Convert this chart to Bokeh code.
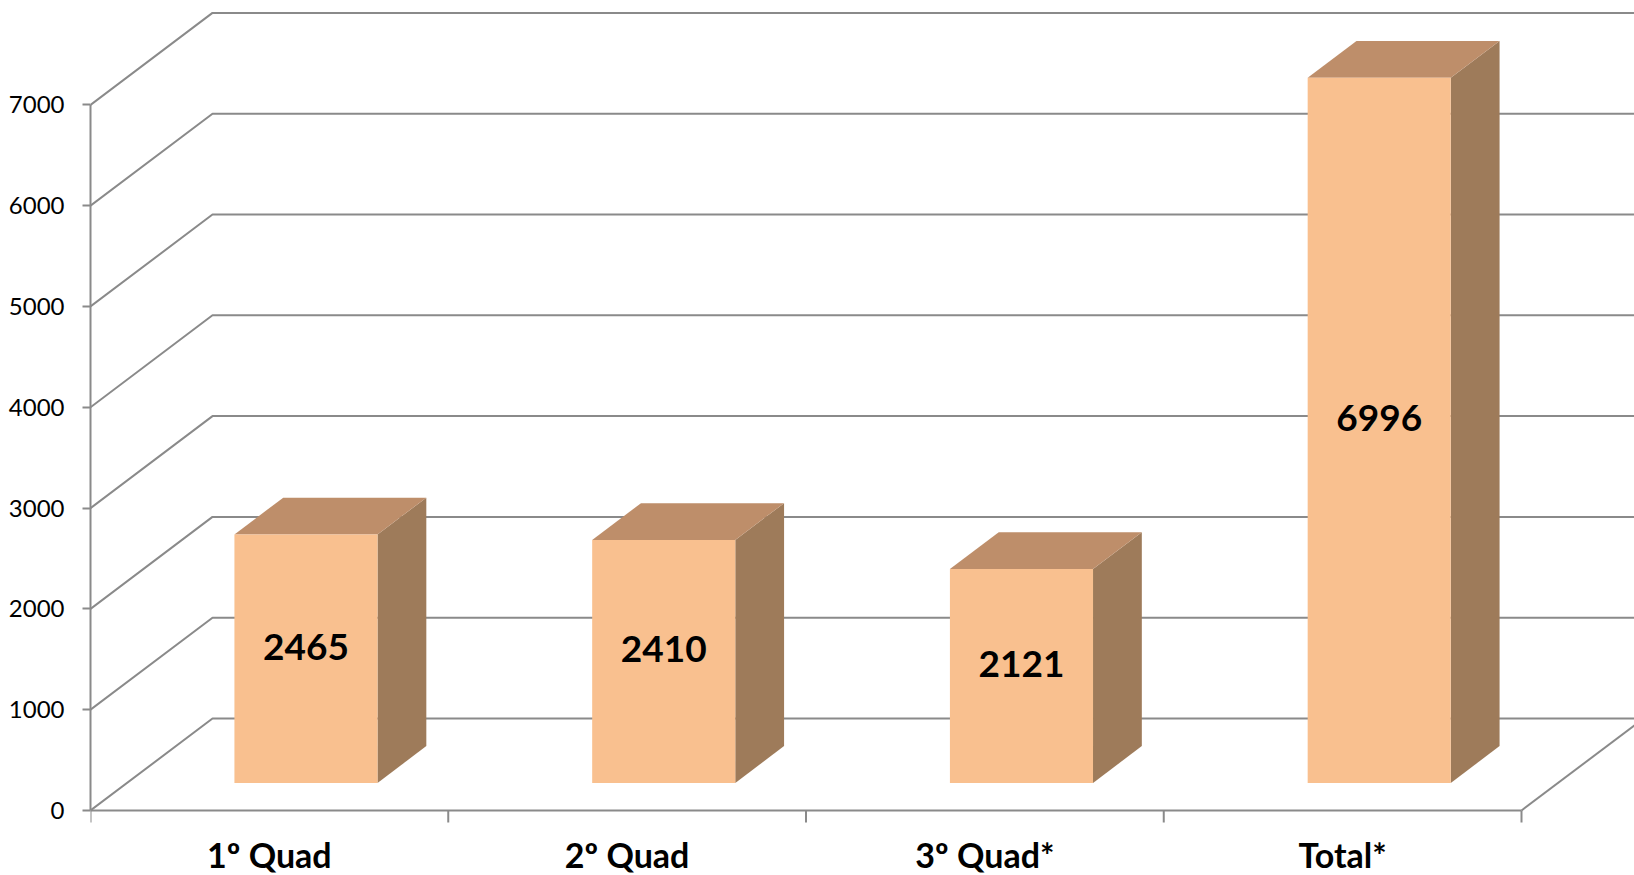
from bokeh.plotting import figure
from bokeh.models import Range1d, FixedTicker, ColumnDataSource
from bokeh.core.properties import value
from bokeh.embed import file_html
from bokeh.resources import INLINE

# ---- data ----
categories = ["1º Quad", "2º Quad", "3º Quad*", "Total*"]
values = [2465, 2410, 2121, 6996]
value_labels = ["2465", "2410", "2121", "6996"]
y_ticks = [0, 1000, 2000, 3000, 4000, 5000, 6000, 7000]

# ---- layout / style constants ----
W, H = 1634, 875
LEFT = 90
PX_X = 357.75      # pixels per category slot
PX_Y = 0.1008      # pixels per value unit
ZERO_FROM_BOTTOM = 65
x_end = (W - LEFT) / PX_X
y_start = -ZERO_FROM_BOTTOM / PX_Y
y_end = (H - ZERO_FROM_BOTTOM) / PX_Y
DX = 122 / PX_X    # 3D depth in x (category units)
DY = 92 / PX_Y     # 3D depth in y (value units)
F0, F1 = 0.3, 0.7  # bar front/back depth fractions
BW = 0.4           # bar width (category units)

GRID = "#8A8A8A"
FRONT = "#F9C08F"
TOP = "#BE8E6A"
SIDE = "#9E7B5A"
FONT = "Lato"

p = figure(width=W, height=H, output_backend="svg", toolbar_location=None,
           x_range=Range1d(0, x_end), y_range=Range1d(y_start, y_end),
           x_axis_location=None, min_border=0, min_border_left=LEFT,
           outline_line_color=None, background_fill_color="white",
           border_fill_color="white")
p.xgrid.visible = False
p.ygrid.visible = False

ax = p.yaxis[0]
ax.ticker = FixedTicker(ticks=y_ticks, minor_ticks=[])
ax.bounds = (0, max(y_ticks))
ax.axis_line_color = GRID
ax.axis_line_width = 2
ax.major_tick_line_color = GRID
ax.major_tick_line_width = 2
ax.major_tick_in = 0
ax.major_tick_out = 8
ax.minor_tick_line_color = None
ax.major_label_standoff = 18
ax.major_label_text_font = FONT
ax.major_label_text_font_size = "24px"
ax.major_label_text_color = "black"

# ---- walls: gridlines on side wall and back wall ----
far = x_end + 1
gx = [[0, DX, far] for v in y_ticks]
gy = [[v, v + DY, v + DY] for v in y_ticks]
p.multi_line(gx, gy, line_color=GRID, line_width=2)

# floor front edge and right edge
n = len(categories)
p.multi_line([[0, n], [n, n + DX]], [[0, 0], [0, DY]], line_color=GRID, line_width=2)
# category boundary ticks
p.segment(x0=list(range(n + 1)), y0=[0] * (n + 1), x1=list(range(n + 1)),
          y1=[-12 / PX_Y] * (n + 1), line_color=GRID, line_width=2)

# ---- bars ----
xc = [i + 0.5 for i in range(n)]
fl = [c - BW / 2 + F0 * DX for c in xc]
fr = [c + BW / 2 + F0 * DX for c in xc]
fb = [F0 * DY] * n
ft = [v + F0 * DY for v in values]
sh_x = (F1 - F0) * DX
sh_y = (F1 - F0) * DY

side_xs = [[fr[i], fr[i] + sh_x, fr[i] + sh_x, fr[i]] for i in range(n)]
side_ys = [[fb[i], fb[i] + sh_y, ft[i] + sh_y, ft[i]] for i in range(n)]
p.patches(side_xs, side_ys, fill_color=SIDE, line_color=None)

top_xs = [[fl[i], fr[i], fr[i] + sh_x, fl[i] + sh_x] for i in range(n)]
top_ys = [[ft[i], ft[i], ft[i] + sh_y, ft[i] + sh_y] for i in range(n)]
p.patches(top_xs, top_ys, fill_color=TOP, line_color=None)

p.quad(left=fl, right=fr, bottom=fb, top=ft, fill_color=FRONT, line_color=None)

# ---- value labels ----
src = ColumnDataSource(dict(x=[(fl[i] + fr[i]) / 2 for i in range(n)],
                            y=[values[i] / 2 + F0 * DY for i in range(n)],
                            t=value_labels))
p.text(x="x", y="y", text="t", source=src, text_font=value(FONT),
       text_font_style="bold", text_font_size="37px", text_color="black",
       text_align="center", text_baseline="alphabetic", y_offset=-12)

# ---- category labels ----
p.text(x=xc, y=[0] * n, text=categories, text_font=value(FONT),
       text_font_style="bold", text_font_size="34px", text_color="black",
       text_align="center", text_baseline="alphabetic", y_offset=44)

open("out.html", "w").write(file_html(p, INLINE))
